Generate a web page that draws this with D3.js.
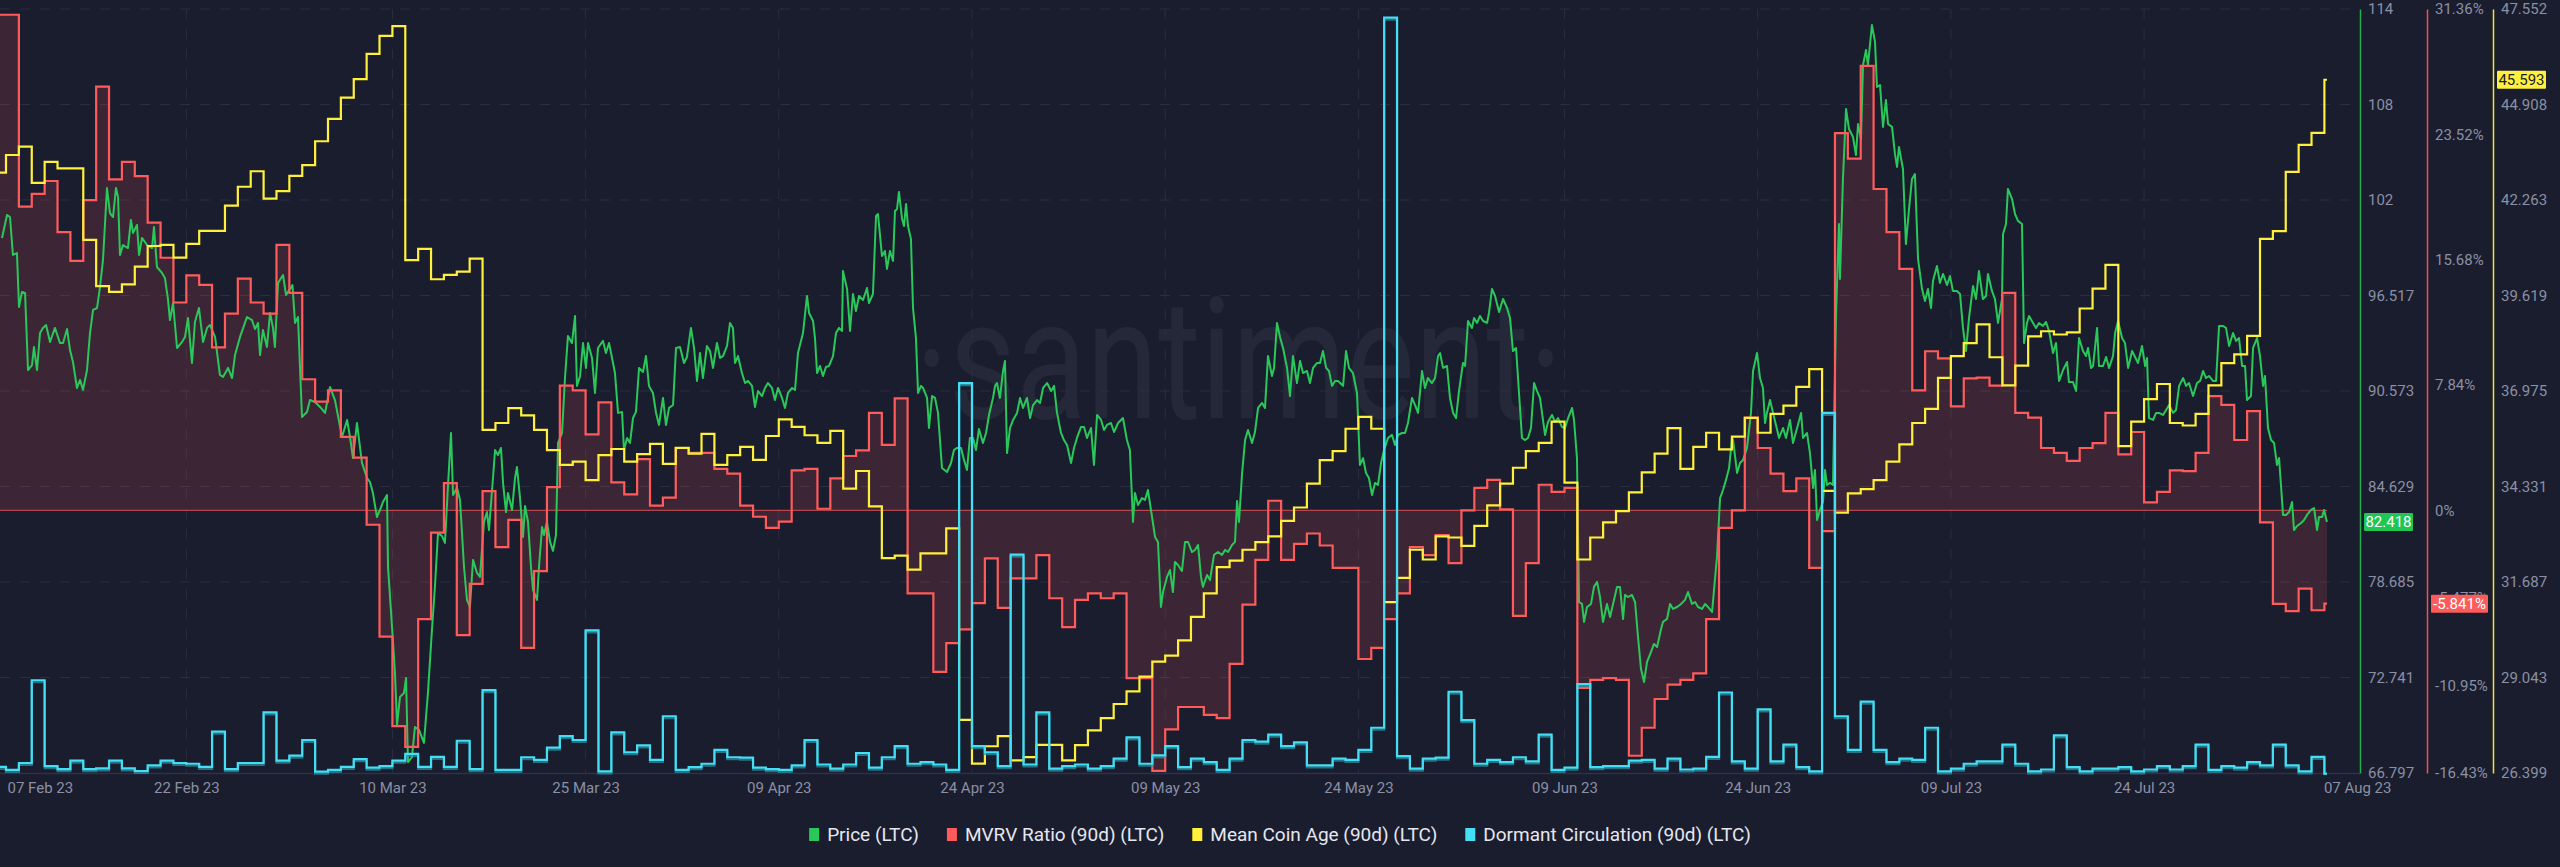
<!DOCTYPE html>
<html><head><meta charset="utf-8">
<script src="https://cdn.jsdelivr.net/npm/d3@7"></script>
<style>
html,body{margin:0;padding:0;background:#1a1d2e;}
svg{display:block;}
text{font-family:Roboto,"Open Sans",sans-serif;}
</style></head><body>
<svg id="chart" width="2560" height="867"></svg>
<script>
// ---------------- DATA ----------------
const seriesStart = Date.UTC(2023,1,7);           // first daily value: 07 Feb 23
const priceStart  = Date.UTC(2023,1,8);           // price offsets are days after 08 Feb 23

const mvrv = [31.0,31.0,19.0,19.8,20.6,17.4,15.6,19.4,26.5,20.7,21.8,20.9,18.0,15.8,13.0,14.7,14.1,10.2,12.3,14.5,
13.0,12.3,16.6,13.6,8.2,6.8,7.5,4.6,3.3,-0.9,-7.9,-13.5,-14.8,-6.8,-1.4,1.7,-7.8,-4.6,1.2,-2.3,
-0.6,-8.6,-3.8,1.45,7.8,7.5,4.75,6.75,1.75,1.0,3.2,0.3,0.8,3.9,3.6,3.6,2.6,2.3,0.3,-0.4,
-1.1,-0.7,2.5,2.6,0.1,2.0,3.4,3.75,6.1,4.1,7.0,-5.2,-5.2,-10.1,-8.3,-7.45,-5.8,-3.0,-6.1,-4.25,
-4.25,-2.8,-5.5,-7.3,-5.6,-5.2,-5.5,-5.2,-10.5,-10.5,-16.3,-13.7,-12.3,-12.3,-12.8,-13.0,-9.6,-5.9,-3.1,0.6,
-3.1,-2.1,-1.45,-2.2,-3.6,-3.6,-9.3,-8.6,-6.8,-5.2,-2.3,-2.8,-1.55,-3.3,0.0,1.4,1.9,0.06,-6.6,-3.3,
1.6,1.15,1.4,-11.1,-10.6,-10.5,-10.6,-15.35,-13.6,-11.8,-10.9,-10.6,-10.2,-6.8,-1.1,0.0,5.8,3.9,2.3,1.2,
2.0,-3.6,-1.3,23.6,22.0,27.8,20.1,17.4,15.1,7.5,9.95,9.5,6.5,8.25,8.3,7.8,13.6,6.1,5.8,3.9,
3.6,3.1,3.9,4.2,6.1,3.5,4.9,0.5,1.15,2.5,2.45,3.6,7.15,6.6,4.4,6.2,-0.75,-5.85,-6.3,-4.9,
-6.25,-5.841];

const meanCoinAge = [43.02,43.51,43.74,42.74,43.32,43.14,43.14,41.16,39.88,39.72,39.93,40.42,40.99,41.02,40.67,41.05,41.41,41.41,42.11,42.63,
43.06,42.30,42.51,42.93,43.23,43.89,44.51,45.10,45.61,46.31,46.81,47.08,40.60,40.91,40.07,40.19,40.28,40.64,35.90,36.09,
36.50,36.30,35.90,35.34,34.93,35.02,34.51,35.20,35.37,35.02,35.23,35.51,34.96,35.40,35.24,35.79,34.93,35.20,35.43,35.07,
35.73,36.19,35.98,35.75,35.54,35.87,34.27,34.76,33.78,32.35,32.42,32.03,32.48,32.48,33.17,27.87,26.66,27.14,27.42,26.75,
26.84,27.18,27.18,26.75,27.17,27.58,27.92,28.31,28.66,29.07,29.48,29.65,30.07,30.72,31.37,32.10,32.28,32.58,32.79,32.95,
33.38,33.75,34.41,35.06,35.31,35.93,36.26,35.93,31.13,31.80,32.58,32.31,32.95,32.92,32.69,33.24,33.81,34.41,34.85,35.31,
35.54,36.13,34.44,32.31,32.92,33.34,33.65,34.17,34.72,35.24,35.95,34.82,35.43,35.82,35.36,35.71,36.23,35.82,36.34,36.57,
37.09,37.58,34.21,33.61,34.14,34.26,34.51,35.02,35.50,36.09,36.48,37.34,37.94,38.30,38.82,37.91,37.13,37.68,38.49,38.63,
38.54,38.60,39.26,39.81,40.47,35.45,36.13,36.75,37.17,36.09,36.02,36.34,37.13,37.75,37.99,38.50,41.19,41.40,43.04,43.79,
44.12,45.593];

// Dormant Circulation (90d), relative units (no axis shown on the chart)
const dormant = [12,8,17,125,13,9,20,9,10,20,10,6.5,14,20,17,16,12,58,9,17,
17,83,20,26.5,47,5.6,8,12,22,11,13,20,29,12,25,12,46,9,112,8,
8,24.5,21,37,52,47,190,6,57,31,40,21,78,8,11.5,16,34,24.5,24,11,
9,8,14,47,15,9.5,15,30,11,24.5,39,16,18,15,8,513,39,31,13,289,
15,83,9.5,13,15,9.5,13,22.6,50.5,16,27,39,11.5,22.6,18,8,22.6,47,45,54,
39,44,14,14,22.6,21,34,63,990,26,9.5,22.6,24,110,73,16,21,18,24.5,19,
54,8,11,120,11.5,13,13,20,21,9.5,22.6,8.5,9.5,25,109,19,9.5,87,19,41,
11.5,6,474,78,34,97,34,18,22.6,21,63,6,9.5,16,19,19,41,16,6,8.5,
53,11.5,6,9.5,9.5,11.5,6,8.5,13,8.5,13,41,8,13,11,18,14,41,14,6,
25,3];

// Price (LTC): [days after 08 Feb 23, USD]
const price = [[-0.31,100.10],[0.08,101.53],[0.31,101.40],[0.54,99.04],[0.85,99.16],[1.01,95.80],[1.24,96.74],[1.48,96.67],[1.71,91.88],[2.02,92.19],
[2.17,93.31],[2.41,91.88],[2.64,94.18],[2.87,94.50],[3.11,94.68],[3.42,93.62],[3.80,94.50],[4.19,93.56],[4.43,93.56],[4.74,94.43],
[4.97,93.13],[5.20,92.38],[5.51,90.76],[5.75,91.26],[5.98,90.64],[6.29,91.88],[6.52,94.18],[6.76,95.62],[7.07,95.74],[7.30,97.05],
[7.53,98.73],[7.84,103.21],[8.07,101.65],[8.31,101.40],[8.54,103.21],[8.70,102.65],[8.85,99.04],[9.08,99.66],[9.47,99.47],[9.70,101.22],
[9.86,100.41],[10.17,100.91],[10.33,99.04],[10.56,100.10],[10.95,99.66],[11.34,99.47],[11.49,100.78],[11.72,98.29],[12.11,97.92],[12.34,97.61],
[12.58,96.24],[12.73,94.99],[12.97,96.05],[13.28,93.25],[13.66,93.62],[13.90,93.94],[14.13,95.12],[14.44,92.32],[14.67,94.87],[14.98,95.74],
[15.30,93.62],[15.61,94.50],[15.84,94.68],[16.23,93.94],[16.61,91.57],[16.85,91.45],[17.24,92.01],[17.55,91.38],[17.78,92.81],[18.17,93.94],
[18.71,95.18],[19.10,94.99],[19.33,94.43],[19.57,94.81],[19.72,92.81],[19.95,94.37],[20.26,93.31],[20.50,95.43],[20.73,94.50],[20.88,93.31],
[21.12,97.30],[21.51,97.79],[21.74,96.55],[22.24,97.17],[22.44,94.81],[22.67,95.18],[22.98,88.96],[23.37,89.27],[23.60,90.01],[23.99,89.89],
[24.38,89.58],[24.77,89.21],[25.16,90.82],[25.54,90.01],[26.09,87.71],[26.48,88.77],[26.71,87.71],[26.94,86.40],[27.25,88.58],[27.64,86.09],
[28.03,85.16],[28.26,84.91],[28.49,84.22],[28.80,82.73],[29.04,83.17],[29.27,83.67],[29.58,84.10],[29.66,79.62],[29.97,75.89],[30.20,73.02],
[30.36,69.79],[30.59,71.53],[30.90,71.78],[31.06,72.71],[31.21,67.48],[31.52,67.79],[31.75,69.66],[32.07,69.47],[32.45,68.67],[32.76,71.78],
[33.07,75.70],[33.31,78.50],[33.54,81.73],[33.85,81.55],[34.08,81.12],[34.32,84.73],[34.55,87.96],[34.71,84.10],[35.02,84.54],[35.25,83.79],
[35.56,79.62],[35.79,77.57],[36.02,77.13],[36.26,80.06],[36.57,79.25],[36.80,79.00],[37.11,82.42],[37.34,83.04],[37.50,81.92],[37.81,85.16],
[37.97,86.90],[38.20,86.59],[38.43,87.03],[38.59,84.85],[38.82,83.04],[38.97,84.22],[39.29,83.17],[39.52,85.16],[39.67,85.84],[39.91,83.91],
[40.14,81.49],[40.30,83.42],[40.53,82.42],[40.76,79.62],[40.92,78.19],[41.23,77.57],[41.38,79.62],[41.62,82.11],[41.77,81.61],[42.00,82.42],
[42.24,81.18],[42.47,80.62],[42.70,81.61],[42.86,87.34],[43.17,87.96],[43.40,91.38],[43.63,94.00],[43.94,93.56],[44.18,95.24],[44.33,90.89],
[44.57,91.51],[44.80,93.56],[45.03,92.01],[45.19,93.56],[45.50,92.63],[45.73,90.45],[45.96,93.25],[46.35,93.69],[46.58,92.94],[46.82,93.56],
[47.13,92.32],[47.28,91.69],[47.52,89.21],[47.83,89.27],[47.98,86.90],[48.22,87.65],[48.45,87.34],[48.68,88.89],[48.91,89.27],[49.15,92.01],
[49.46,91.76],[49.69,92.75],[49.92,90.89],[50.23,90.45],[50.47,89.21],[50.70,88.46],[51.01,90.14],[51.24,88.46],[51.48,89.52],[51.79,89.70],
[52.02,93.25],[52.33,93.31],[52.64,92.32],[52.87,92.69],[53.18,94.50],[53.42,93.25],[53.65,91.20],[53.88,92.94],[54.11,91.38],[54.42,93.38],
[54.66,93.06],[54.89,92.01],[55.20,93.56],[55.44,92.63],[55.67,92.75],[55.98,93.38],[56.21,94.81],[56.44,94.50],[56.60,92.32],[56.83,92.75],
[57.14,91.69],[57.38,91.07],[57.61,91.20],[57.92,90.89],[58.15,89.58],[58.39,90.57],[58.70,90.26],[58.93,90.76],[59.16,91.07],[59.47,90.76],
[59.70,90.01],[59.94,90.76],[60.25,90.14],[60.48,89.52],[60.71,90.45],[61.03,90.76],[61.26,90.64],[61.49,92.94],[61.88,94.18],[62.19,96.49],
[62.35,95.43],[62.66,94.93],[62.81,93.87],[62.97,91.69],[63.20,92.13],[63.43,91.51],[63.66,92.07],[63.90,92.13],[64.21,92.75],[64.44,94.18],
[64.67,94.50],[64.91,94.31],[64.98,98.04],[65.30,96.92],[65.53,94.31],[65.76,96.61],[65.99,95.55],[66.23,96.49],[66.54,96.24],[66.85,96.98],
[67.00,96.05],[67.31,96.61],[67.55,101.47],[67.70,101.59],[68.01,98.98],[68.24,99.29],[68.40,98.17],[68.63,99.29],[68.87,98.67],[69.02,101.78],
[69.18,101.90],[69.33,102.96],[69.57,101.28],[69.72,100.84],[69.88,102.21],[70.03,100.84],[70.26,100.04],[70.42,95.74],[70.65,93.87],[70.81,90.45],
[71.04,90.89],[71.20,90.76],[71.51,90.14],[71.66,88.27],[71.90,90.26],[72.13,90.14],[72.36,89.21],[72.67,85.78],[73.06,85.53],[73.37,86.09],
[73.60,86.90],[73.84,87.03],[74.15,87.03],[74.38,86.28],[74.61,85.66],[74.84,87.65],[75.08,87.65],[75.31,86.90],[75.54,88.21],[75.85,87.34],
[76.09,87.96],[76.32,89.08],[76.63,90.14],[76.79,90.89],[76.94,91.07],[77.17,90.14],[77.41,91.82],[77.56,92.44],[77.72,86.71],[77.95,88.27],
[78.19,88.77],[78.50,89.21],[78.73,90.14],[78.96,89.52],[79.27,90.14],[79.51,88.89],[79.74,89.70],[80.05,90.01],[80.28,89.83],[80.52,90.76],
[80.83,91.07],[81.14,90.57],[81.37,90.89],[81.60,89.21],[81.91,87.96],[82.14,87.52],[82.38,87.21],[82.69,86.09],[82.92,87.03],[83.15,87.65],
[83.46,88.33],[83.70,88.33],[83.93,87.65],[84.24,88.27],[84.47,85.97],[84.71,89.08],[85.02,88.77],[85.25,88.15],[85.48,88.46],[85.79,88.58],
[86.03,88.02],[86.34,88.58],[86.72,88.89],[87.03,87.52],[87.26,86.90],[87.50,82.42],[87.65,84.22],[87.89,83.48],[88.20,83.91],[88.43,83.79],
[88.66,84.41],[88.98,82.73],[89.21,81.49],[89.44,81.18],[89.67,77.13],[89.83,78.06],[90.14,79.00],[90.37,79.43],[90.60,78.06],[90.76,79.93],
[90.99,79.74],[91.30,79.37],[91.54,81.18],[91.77,81.18],[92.08,80.55],[92.31,80.68],[92.55,80.99],[92.78,79.00],[92.93,78.38],[93.25,79.12],
[93.48,78.81],[93.79,80.37],[94.10,80.55],[94.41,80.37],[94.64,80.68],[94.88,80.55],[95.19,80.99],[95.42,81.18],[95.58,83.73],[95.73,82.42],
[95.96,85.35],[96.20,87.52],[96.43,88.15],[96.74,87.34],[96.97,88.02],[97.21,89.52],[97.52,89.83],[97.75,89.52],[97.98,92.75],[98.29,91.51],
[98.45,92.01],[98.68,94.81],[98.91,93.94],[99.15,93.25],[99.46,92.01],[99.69,90.26],[99.92,92.75],[100.23,91.07],[100.47,92.44],[100.70,91.69],
[101.01,91.82],[101.24,91.07],[101.48,92.01],[101.79,92.32],[102.02,92.32],[102.25,93.06],[102.49,92.01],[102.72,91.82],[102.95,90.89],[103.18,91.20],
[103.42,91.20],[103.81,90.89],[104.04,93.06],[104.27,92.01],[104.58,91.69],[104.89,90.45],[105.12,85.97],[105.36,86.40],[105.59,85.47],[105.82,85.16],
[106.06,84.10],[106.29,84.85],[106.52,84.73],[106.76,86.09],[106.99,86.90],[107.30,87.65],[107.61,87.84],[107.84,87.21],[108.08,87.84],[108.39,87.96],
[108.62,87.96],[108.85,88.58],[109.16,90.14],[109.40,89.70],[109.63,89.21],[109.94,91.82],[110.17,90.76],[110.40,91.38],[110.71,91.07],[110.95,91.38],
[111.18,92.75],[111.34,92.94],[111.57,92.01],[111.88,92.13],[112.11,90.14],[112.35,89.21],[112.58,88.89],[112.81,90.57],[113.12,92.32],[113.28,92.13],
[113.51,94.93],[113.82,94.50],[113.98,95.12],[114.21,94.81],[114.44,95.24],[114.68,94.93],[114.99,94.81],[115.14,95.43],[115.37,96.92],[115.61,96.49],
[115.92,95.49],[116.23,96.30],[116.54,95.74],[116.77,95.12],[117.00,93.06],[117.24,93.25],[117.47,90.45],[117.70,87.65],[117.94,87.52],[118.17,87.65],
[118.40,88.27],[118.64,91.07],[118.87,90.57],[119.10,90.14],[119.33,88.77],[119.49,87.84],[119.72,88.64],[120.03,89.08],[120.27,88.64],[120.50,88.89],
[120.81,88.33],[121.04,88.27],[121.28,88.89],[121.59,89.52],[121.74,88.77],[121.97,86.40],[122.13,77.44],[122.36,77.32],[122.52,76.20],[122.75,77.13],
[123.06,77.32],[123.29,78.38],[123.53,78.69],[123.76,77.75],[123.99,76.20],[124.30,77.32],[124.54,76.51],[124.77,77.32],[125.08,78.38],[125.31,78.38],
[125.55,76.38],[125.70,77.88],[125.93,77.75],[126.24,77.88],[126.48,77.44],[126.71,75.26],[126.94,73.27],[127.18,72.46],[127.41,73.71],[127.72,74.33],
[127.95,74.83],[128.19,74.64],[128.50,75.76],[128.65,76.20],[128.96,76.38],[129.20,77.32],[129.43,77.01],[129.74,77.13],[130.05,77.32],[130.36,77.57],
[130.59,78.06],[130.90,77.32],[131.14,77.44],[131.37,77.13],[131.68,77.01],[131.91,77.32],[132.14,77.13],[132.46,76.82],[132.61,78.19],[132.84,80.24],
[133.08,83.91],[133.31,84.41],[133.54,85.04],[133.78,85.78],[134.01,87.65],[134.09,87.52],[134.40,85.47],[134.63,86.09],[134.86,86.28],[135.17,87.03],
[135.48,89.21],[135.64,91.82],[135.95,92.94],[136.18,91.38],[136.41,90.76],[136.57,88.58],[136.72,89.21],[136.96,90.01],[137.19,89.21],[137.42,88.46],
[137.66,87.65],[137.97,88.27],[138.20,87.65],[138.51,88.77],[138.74,87.34],[139.06,88.27],[139.37,89.21],[139.52,87.65],[139.83,87.96],[140.06,86.71],
[140.30,84.54],[140.45,85.66],[140.61,82.54],[140.84,83.17],[141.07,83.67],[141.23,85.66],[141.38,84.73],[141.61,84.85],[141.85,84.73],[142.08,95.24],
[142.31,100.97],[142.39,97.55],[142.62,103.77],[142.86,108.13],[143.09,106.88],[143.40,106.38],[143.63,105.26],[143.79,107.19],[144.02,106.26],[144.18,110.86],
[144.41,111.80],[144.56,110.86],[144.87,113.35],[145.11,112.30],[145.26,109.50],[145.50,109.62],[145.73,107.01],[145.96,108.69],[146.12,107.19],[146.43,107.01],
[146.66,105.33],[146.82,104.52],[146.97,105.76],[147.28,104.39],[147.51,99.72],[147.75,101.90],[147.98,103.77],[148.21,104.08],[148.45,98.79],[148.76,96.92],
[148.99,96.18],[149.22,96.92],[149.46,95.74],[149.61,97.42],[149.92,98.35],[150.15,97.30],[150.39,97.86],[150.70,97.17],[150.93,97.73],[151.16,96.80],
[151.47,96.80],[151.71,96.61],[151.94,94.50],[152.17,93.06],[152.41,95.12],[152.72,97.11],[152.95,96.30],[153.18,98.04],[153.49,96.30],[153.73,96.49],
[153.88,97.86],[154.19,96.80],[154.42,96.30],[154.66,94.81],[154.97,96.30],[155.05,100.35],[155.28,100.97],[155.43,103.15],[155.75,102.52],[155.98,101.59],
[156.21,101.16],[156.52,100.97],[156.68,93.56],[156.91,94.81],[157.07,95.24],[157.38,94.81],[157.61,94.50],[157.84,94.81],[158.15,94.62],[158.39,94.87],
[158.62,94.31],[158.93,92.94],[159.16,93.56],[159.40,91.20],[159.71,91.88],[160.02,92.38],[160.17,91.13],[160.48,91.13],[160.72,90.57],[160.95,93.87],
[161.26,93.06],[161.49,92.75],[161.65,93.25],[161.88,92.01],[162.04,92.13],[162.35,94.50],[162.50,92.13],[162.81,92.13],[163.05,92.69],[163.28,92.01],
[163.59,92.75],[163.75,94.18],[163.98,94.93],[164.29,93.87],[164.52,93.56],[164.76,92.01],[165.07,93.06],[165.30,92.69],[165.53,92.32],[165.84,93.38],
[166.08,92.13],[166.23,92.63],[166.38,88.89],[166.70,88.77],[166.93,89.21],[167.16,89.21],[167.47,89.08],[167.71,89.39],[167.94,89.70],[168.25,89.21],
[168.48,89.39],[168.72,90.89],[169.03,91.38],[169.26,90.89],[169.49,91.07],[169.80,90.26],[170.11,91.07],[170.35,91.20],[170.58,91.82],[170.81,91.38],
[171.04,91.51],[171.35,91.20],[171.59,91.20],[171.82,94.62],[172.13,94.62],[172.36,94.50],[172.60,93.38],[172.91,94.18],[173.14,93.69],[173.37,93.87],
[173.61,92.13],[173.84,92.13],[173.99,90.01],[174.30,90.26],[174.46,93.25],[174.77,93.87],[175.00,92.75],[175.24,90.89],[175.39,91.51],[175.62,88.27],
[175.86,87.52],[176.09,87.34],[176.32,85.97],[176.48,86.40],[176.79,82.86],[177.02,82.86],[177.26,83.04],[177.49,83.67],[177.64,81.92],[177.88,82.17],
[178.19,82.36],[178.42,82.54],[178.65,82.86],[178.96,83.17],[179.20,83.29],[179.43,81.92],[179.58,82.73],[179.82,82.73],[179.97,83.17],[180.20,82.418]];

// Axis ticks
const priceTickValues = [66.797,72.741,78.685,84.629,90.573,96.517,102.461,108.405,114.349];
const priceTickLabels = ["66.797","72.741","78.685","84.629","90.573","96.517","102","108","114"];
const mvrvTickValues  = [-16.43,-10.953,-5.477,0,7.84,15.68,23.52,31.36];
const mvrvTickLabels  = ["-16.43%","-10.95%","-5.477%","0%","7.84%","15.68%","23.52%","31.36%"];
const mcaTickValues   = [26.399,29.043,31.687,34.331,36.975,39.619,42.263,44.908,47.552];
const mcaTickLabels   = ["26.399","29.043","31.687","34.331","36.975","39.619","42.263","44.908","47.552"];
const xTickDates  = ["2023-02-07","2023-02-22","2023-03-10","2023-03-25","2023-04-09","2023-04-24","2023-05-09","2023-05-24","2023-06-09","2023-06-24","2023-07-09","2023-07-24","2023-08-07"];
const xTickLabels = ["07 Feb 23","22 Feb 23","10 Mar 23","25 Mar 23","09 Apr 23","24 Apr 23","09 May 23","24 May 23","09 Jun 23","24 Jun 23","09 Jul 23","24 Jul 23","07 Aug 23"];
const legendItems = ["Price (LTC)","MVRV Ratio (90d) (LTC)","Mean Coin Age (90d) (LTC)","Dormant Circulation (90d) (LTC)"];

// ---------------- STYLE ----------------
const C = {bg:"#1a1d2e", grid:"#2a2e40", text:"#8b90a5", price:"#2ac85a", mvrv:"#ff5b5b", mca:"#fff03c", dorm:"#45dff5"};
const W = 2560, H = 867;
const plotL = 0, plotR = 2360, plotT = 9, plotB = 773;

const svg = d3.select("#chart");
svg.append("rect").attr("width",W).attr("height",H).attr("fill",C.bg);

// scales
const DAY = 864e5;
const x = d3.scaleUtc().domain([Date.UTC(2023,1,7), Date.UTC(2023,7,7)]).range([-6.88, 2324.4]);
const yPrice = d3.scaleLinear().domain([66.797,114.349]).range([plotB,plotT]);
const yMvrv  = d3.scaleLinear().domain([-16.43,31.36]).range([plotB,plotT]);
const yMca   = d3.scaleLinear().domain([26.399,47.552]).range([plotB,plotT]);
const yDorm  = d3.scaleLinear().domain([0,1000]).range([776,10]);

// watermark
svg.append("text").attr("x",915).attr("y",418)
  .attr("font-family","Lato, 'Open Sans', sans-serif").attr("font-size",168)
  .attr("fill","rgba(255,255,255,0.05)")
  .attr("textLength",648).attr("lengthAdjust","spacingAndGlyphs")
  .text("·santiment·");

// horizontal grid
svg.append("g").selectAll("line").data(priceTickValues.slice(1)).join("line")
  .attr("x1",plotL).attr("x2",plotR).attr("y1",d=>yPrice(d)).attr("y2",d=>yPrice(d))
  .attr("stroke",C.grid).attr("stroke-width",1).attr("stroke-dasharray","10,10");
// vertical grid
const tickDates = xTickDates.map(s=>new Date(s+"T00:00:00Z"));
svg.append("g").selectAll("line").data(tickDates.slice(1,-1)).join("line")
  .attr("x1",d=>x(d)).attr("x2",d=>x(d)).attr("y1",plotT).attr("y2",plotB)
  .attr("stroke",C.grid).attr("stroke-width",1).attr("stroke-dasharray","10,10");
// bottom line
svg.append("line").attr("x1",plotL).attr("x2",plotR).attr("y1",plotB+0.5).attr("y2",plotB+0.5)
  .attr("stroke","#2e3244").attr("stroke-width",1.5);

// clip
svg.append("defs").append("clipPath").attr("id","clip").append("rect")
  .attr("x",plotL).attr("y",0).attr("width",plotR-plotL).attr("height",plotB+2);
const g = svg.append("g").attr("clip-path","url(#clip)");

// data records
const lastTime = priceStart + price[price.length-1][0]*DAY;
const daily = arr => {
  const d = arr.map((v,i)=>({t:seriesStart+i*DAY, v}));
  d.push({t:lastTime, v:arr[arr.length-1]});
  return d;
};
const mvrvD = daily(mvrv), mcaD = daily(meanCoinAge), dormD = daily(dormant);
const priceD = price.map(p=>({t:priceStart+p[0]*DAY, v:p[1]}));

// MVRV area
g.append("path").datum(mvrvD)
  .attr("d", d3.area().curve(d3.curveStepAfter).x(d=>x(d.t)).y0(yMvrv(0)).y1(d=>yMvrv(d.v)))
  .attr("fill","rgba(255,91,91,0.15)");
// zero line
g.append("line").attr("x1",plotL).attr("x2",x(lastTime)).attr("y1",yMvrv(0)).attr("y2",yMvrv(0))
  .attr("stroke",C.mvrv).attr("stroke-opacity",0.65).attr("stroke-width",1.2);

// price
g.append("path").datum(priceD)
  .attr("d", d3.line().x(d=>x(d.t)).y(d=>yPrice(d.v)))
  .attr("fill","none").attr("stroke",C.price).attr("stroke-width",2).attr("stroke-linejoin","round");
// mvrv line
g.append("path").datum(mvrvD)
  .attr("d", d3.line().curve(d3.curveStepAfter).x(d=>x(d.t)).y(d=>yMvrv(d.v)))
  .attr("fill","none").attr("stroke",C.mvrv).attr("stroke-width",2.2);
// mean coin age
g.append("path").datum(mcaD)
  .attr("d", d3.line().curve(d3.curveStepAfter).x(d=>x(d.t)).y(d=>yMca(d.v)))
  .attr("fill","none").attr("stroke",C.mca).attr("stroke-width",2.2);
// dormant circulation (with soft shadow)
const dLine = d3.line().curve(d3.curveStepAfter).x(d=>x(d.t)).y(d=>yDorm(d.v));
g.append("path").datum(dormD).attr("d",dLine).attr("transform","translate(0,2)")
  .attr("fill","none").attr("stroke","#2b98aa").attr("stroke-opacity",0.7).attr("stroke-width",2.2);
g.append("path").datum(dormD).attr("d",dLine)
  .attr("fill","none").attr("stroke",C.dorm).attr("stroke-width",2.2);

// x axis
const xAxis = svg.append("g").attr("transform",`translate(0,${plotB})`)
  .call(d3.axisBottom(x).tickValues(tickDates).tickFormat((d,i)=>xTickLabels[i]).tickSize(0).tickPadding(9));
xAxis.select(".domain").remove();
xAxis.selectAll("text").attr("fill",C.text).attr("font-size",15).attr("font-family","Roboto, sans-serif");
const xt = xAxis.selectAll(".tick text").nodes();
d3.select(xt[0]).attr("text-anchor","start").attr("x", 7 - x(tickDates[0]));
d3.select(xt[xt.length-1]).attr("text-anchor","start").attr("x",-1);

// y axes
function yAxis(scale, vals, labels, xPos, color){
  const a = svg.append("g").attr("transform",`translate(${xPos},0)`)
    .call(d3.axisRight(scale).tickValues(vals).tickFormat((d,i)=>labels[i]).tickSize(0).tickSizeOuter(0).tickPadding(8));
  a.select(".domain").attr("stroke",color).attr("stroke-width",1.5);
  a.selectAll("text").attr("fill",C.text).attr("font-size",15).attr("font-family","Roboto, sans-serif");
  return a;
}
yAxis(yPrice, priceTickValues, priceTickLabels, plotR, "#22b04c");
yAxis(yMvrv, mvrvTickValues, mvrvTickLabels, 2427, "#f05252");
yAxis(yMca, mcaTickValues, mcaTickLabels, 2493, "#eee23a");

// value badges
function badge(xPos, yPos, w, fill, txtColor, label){
  const b = svg.append("g");
  b.append("rect").attr("x",xPos).attr("y",yPos-9).attr("width",w).attr("height",18).attr("rx",1).attr("fill",fill);
  b.append("text").attr("x",xPos+w/2).attr("y",yPos).attr("text-anchor","middle").attr("dominant-baseline","central")
    .attr("fill",txtColor).attr("font-size",15).attr("font-family","Roboto, sans-serif").text(label);
}
const lastPrice = price[price.length-1][1], lastMvrv = mvrv[mvrv.length-1], lastMca = meanCoinAge[meanCoinAge.length-1];
badge(2364, yPrice(lastPrice), 49, "#1fc654", "#ffffff", lastPrice.toFixed(3));
badge(2431, yMvrv(lastMvrv), 57, "#ff5b5b", "#ffffff", lastMvrv.toFixed(3)+"%");
badge(2497, yMca(lastMca), 49, "#fff03c", "#1a1d2e", lastMca.toFixed(3));

// legend
const legColors = [C.price, C.mvrv, C.mca, C.dorm];
const leg = svg.append("g");
let lx = 0;
legendItems.forEach((t,i)=>{
  const it = leg.append("g");
  it.append("rect").attr("x",0).attr("y",-6).attr("width",10).attr("height",13).attr("fill",legColors[i]);
  const tx = it.append("text").attr("x",18).attr("y",0).attr("dominant-baseline","central")
    .attr("fill","#e6e7ee").attr("font-size",19).attr("font-family","Roboto, sans-serif").text(t);
  const w = 18 + tx.node().getComputedTextLength();
  it.attr("transform",`translate(${lx},0)`);
  lx += w + 28;
});
const legW = lx - 28;
leg.attr("transform",`translate(${1280 - legW/2},834)`);
</script>
</body></html>
